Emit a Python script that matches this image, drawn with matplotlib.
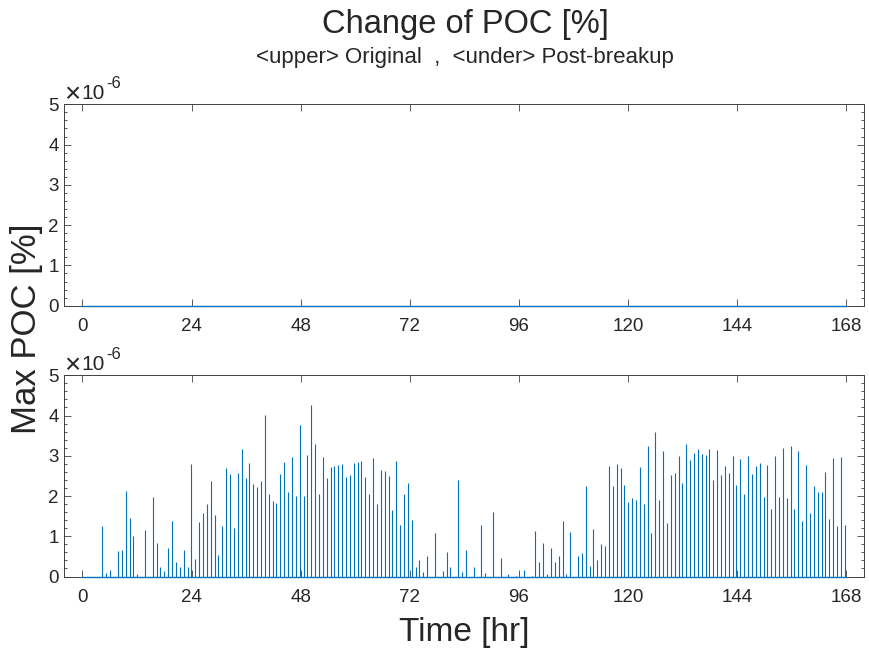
import numpy as np
import matplotlib
matplotlib.use('Agg')
import matplotlib.pyplot as plt
from matplotlib.ticker import MultipleLocator, FuncFormatter, FixedLocator

plt.rcParams['font.family'] = ['Liberation Sans', 'DejaVu Sans']

# ---------------- data ----------------
title_text = 'Change of POC [%]'
subtitle_text = '<upper> Original  ,  <under> Post-breakup'
xlabel_text = 'Time [hr]'
ylabel_text = 'Max POC [%]'
times_text = '\u00d7'
base_text = '10'
exp_text = '-6'
x_ticks = [0, 24, 48, 72, 96, 120, 144, 168]
y_ticks = [0, 1, 2, 3, 4, 5]
value_scale = 1e-6

# upper panel: original (all zero)
orig_time = [0, 168]
orig_vals = [0.0, 0.0]

# lower panel: post-breakup baseline and spikes (values in 1e-6 %)
post_base_time = [0, 168]
post_base_vals = [0.0, 0.0]

spike_first = 4.40
spike_step = 0.8505
spike_vals = [
    1.25, 0.09, 0.16, 0.00, 0.63, 0.66, 2.12, 1.46, 1.00, 0.06,
    0.00, 1.15, 0.00, 1.97, 0.84, 0.24, 0.13, 0.70, 1.37, 0.36,
    0.23, 0.65, 0.24, 2.79, 0.43, 1.35, 1.57, 1.80, 2.37, 1.53,
    0.53, 1.26, 2.70, 2.54, 1.21, 2.57, 3.16, 2.44, 2.82, 2.29,
    2.22, 2.38, 4.01, 2.04, 1.88, 1.82, 2.55, 2.85, 2.09, 2.96,
    2.01, 3.77, 2.00, 3.02, 4.26, 3.29, 2.06, 2.96, 2.45, 2.73,
    2.74, 2.76, 2.79, 2.48, 2.53, 2.81, 2.84, 2.87, 2.48, 2.04,
    2.94, 1.80, 2.64, 2.62, 2.49, 1.65, 2.86, 1.27, 2.04, 2.33,
    1.41, 0.23, 0.41, 0.11, 0.50, 0.00, 1.07, 0.00, 0.13, 0.60,
    0.23, 0.00, 2.41, 0.10, 0.66, 0.00, 0.23, 0.00, 1.27, 0.08,
    0.00, 1.61, 0.00, 0.47, 0.00, 0.05, 0.00, 0.02, 0.00, 0.15,
    0.00, 0.02, 1.13, 0.36, 0.84, 0.07, 0.72, 0.37, 0.50, 1.38,
    0.05, 1.10, 0.00, 0.50, 0.58, 2.24, 0.25, 1.17, 0.41, 0.80,
    0.75, 2.75, 2.24, 2.79, 2.69, 2.27, 1.84, 1.95, 1.90, 2.71,
    1.80, 3.25, 1.09, 3.60, 1.89, 3.11, 1.33, 2.52, 2.57, 3.00,
    2.33, 3.29, 2.89, 3.08, 3.18, 3.05, 3.01, 3.16, 2.39, 3.14,
    2.52, 2.74, 2.57, 2.99, 2.28, 2.93, 2.06, 3.00, 2.54, 2.74,
    2.82, 1.97, 2.78, 1.67, 3.00, 1.98, 3.20, 1.94, 3.25, 1.67,
    3.11, 1.39, 2.76, 1.59, 2.24, 2.09, 2.10, 2.59, 1.44, 2.94,
    1.25, 2.96, 1.27,
]
spike_times = spike_first + spike_step * np.arange(len(spike_vals))

# ---------------- style ----------------
line_color = '#0072BD'
text_color = '#262626'
axis_color = '#404040'

W, H = 869, 654
fig = plt.figure(figsize=(W / 100, H / 100), dpi=100)

def px_axes(left, top, right, bottom):
    return fig.add_axes([left / W, 1 - bottom / H, (right - left) / W, (bottom - top) / H])

def fx(x):
    return x / W

def fy(y):
    return 1 - y / H

axes_tops = [104.3, 375.3]
ax1 = px_axes(64.3, axes_tops[0], 864.3, 305.7)
ax2 = px_axes(64.3, axes_tops[1], 864.3, 576.5)

for ax, top in zip((ax1, ax2), axes_tops):
    ax.set_xlim(-4, 172)
    ax.set_ylim(0, 5 * value_scale)
    ax.xaxis.set_major_locator(FixedLocator(x_ticks))
    ax.yaxis.set_major_locator(FixedLocator([v * value_scale for v in y_ticks]))
    ax.yaxis.set_minor_locator(MultipleLocator(0.2 * value_scale))
    ax.yaxis.set_major_formatter(FuncFormatter(lambda v, p: f'{v / value_scale:g}'))
    ax.tick_params(which='both', direction='in', top=True, right=True,
                   colors=axis_color, labelcolor=text_color, labelsize=13.5, width=0.6)
    ax.tick_params(which='major', length=5)
    ax.tick_params(which='minor', length=2.5)
    ax.tick_params(axis='x', pad=9)
    ax.tick_params(axis='y', pad=4)
    for s in ax.spines.values():
        s.set_color(axis_color)
        s.set_linewidth(0.7)
    # MATLAB-style exponent label
    fig.text(fx(64.5), fy(top - 2.0), times_text, ha='left', va='baseline',
             fontsize=20, color=text_color)
    fig.text(fx(81.8), fy(top - 5.3), base_text, ha='left', va='baseline',
             fontsize=15, color=text_color)
    fig.text(fx(106.0), fy(top - 16.0), exp_text, ha='left', va='baseline',
             fontsize=11.8, color=text_color)

ax1.plot(orig_time, [v * value_scale for v in orig_vals], color=line_color,
         lw=1.0, clip_on=False, zorder=3)

ax2.vlines(spike_times, 0, [v * value_scale for v in spike_vals],
           color=line_color, lw=0.8, zorder=2)
ax2.plot(post_base_time, [v * value_scale for v in post_base_vals], color=line_color,
         lw=1.0, clip_on=False, zorder=3)

fig.text(fx(465), fy(25), title_text, ha='center', va='center',
         fontsize=23.5, color=text_color)
fig.text(fx(465), fy(57), subtitle_text, ha='center', va='center',
         fontsize=16, color=text_color)
fig.text(fx(464), fy(633), xlabel_text, ha='center', va='center',
         fontsize=24, color=text_color)
fig.text(fx(27), fy(329), ylabel_text, ha='center', va='center',
         rotation=90, fontsize=25, color=text_color)

fig.savefig('out.png', dpi=100)
